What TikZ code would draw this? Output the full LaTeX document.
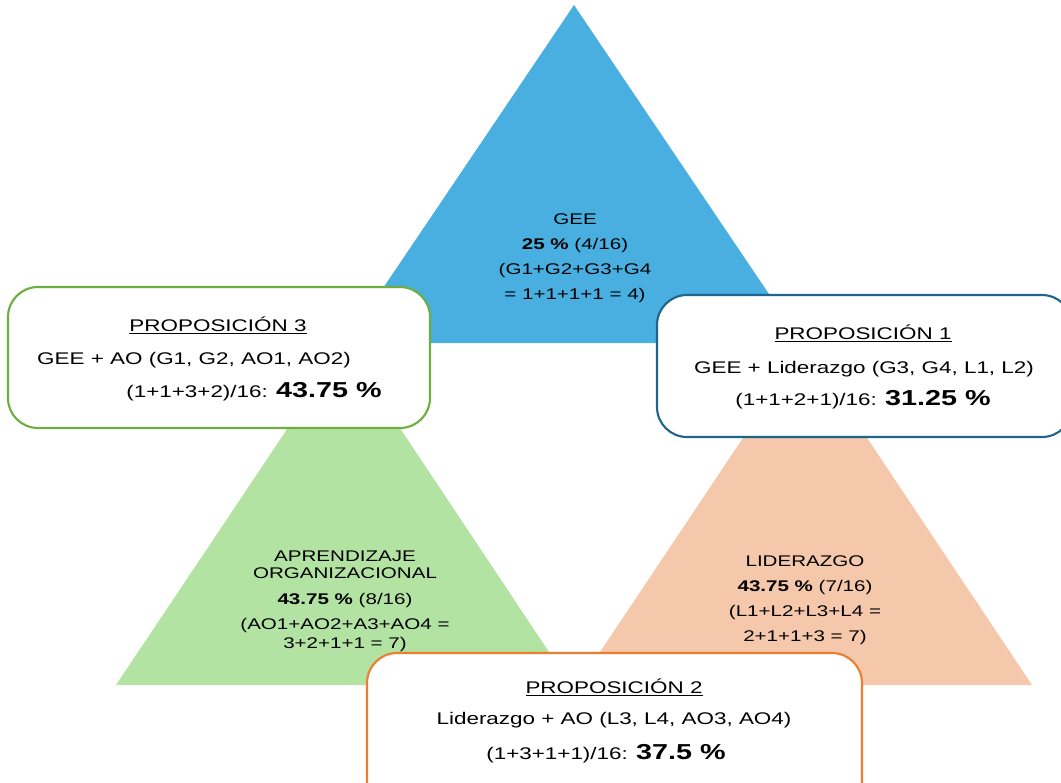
\documentclass[tikz,border=0pt]{standalone}
\usepackage{fontspec}
\setmainfont{Liberation Sans}
\definecolor{geeblue}{HTML}{48AFE0}
\definecolor{aogreen}{HTML}{B3E3A2}
\definecolor{lidorange}{HTML}{F5C7AB}
\definecolor{propgreen}{HTML}{6CAE40}
\definecolor{propteal}{HTML}{1F6489}
\definecolor{proporange}{HTML}{ED7D31}
\newcommand{\pctfont}{\fontsize{12.3}{14}\selectfont\bfseries}

\begin{document}
\begin{tikzpicture}[
  x=0.02cm, y=-0.02cm,
  tri/.style={inner sep=0pt, align=center, xscale=1.33,
    font=\fontsize{8.8}{9.8}\selectfont},
  propbox/.style={rounded corners=0.6cm, line width=1.2pt, fill=white},
  ln/.style={inner sep=0pt, anchor=base, xscale=1.33,
    font=\fontsize{9.6}{11.5}\selectfont}
]
\clip (0,0) rectangle (1061,782);

% the three factors
\fill[geeblue]   (574,5)   -- (802,343)  -- (346,343) -- cycle;
\fill[aogreen]   (344,344) -- (571,685)  -- (116,685) -- cycle;
\fill[lidorange] (805,345) -- (1032,685) -- (578,685) -- cycle;

\node[tri] (gee) at (575,258) {GEE\\[4.4pt]
  \textbf{25 \%} (4/16)\\[4.4pt]
  (G1+G2+G3+G4\\[4.4pt]
  = 1+1+1+1 = 4)};
\node[tri] (ao) at (345,601) {APRENDIZAJE\\
  ORGANIZACIONAL\\[5pt]
  \textbf{43.75 \%} (8/16)\\[4.4pt]
  (AO1+AO2+A3+AO4 =\\[0.8pt]
  3+2+1+1 = 7)};
\node[tri] (lid) at (805,600) {LIDERAZGO\\[4.4pt]
  \textbf{43.75 \%} (7/16)\\[4.4pt]
  (L1+L2+L3+L4 =\\[4.4pt]
  2+1+1+3 = 7)};

% propositions
\draw[propbox, draw=propgreen]  (8,287)   rectangle (430,428);
\draw[propbox, draw=propteal]   (657,295) rectangle (1072,437);
\draw[propbox, draw=proporange] (367,653) rectangle (862,810);

\node[ln] (p3t) at (218,331) {\underline{PROPOSICIÓN 3}};
\node[ln] (p3a) at (194,364) {GEE + AO (G1, G2, AO1, AO2)};
\node[ln] (p3b) at (254,397) {(1+1+3+2)/16: {\pctfont 43.75 \%}};

\node[ln] (p1t) at (863,339) {\underline{PROPOSICIÓN 1}};
\node[ln] (p1a) at (864,373) {GEE + Liderazgo (G3, G4, L1, L2)};
\node[ln] (p1b) at (863,405) {(1+1+2+1)/16: {\pctfont 31.25 \%}};

\node[ln] (p2t) at (614,693) {\underline{PROPOSICIÓN 2}};
\node[ln] (p2a) at (614,724) {Liderazgo + AO (L3, L4, AO3, AO4)};
\node[ln] (p2b) at (606,759) {(1+3+1+1)/16: {\pctfont 37.5 \%}};
\end{tikzpicture}
\end{document}
